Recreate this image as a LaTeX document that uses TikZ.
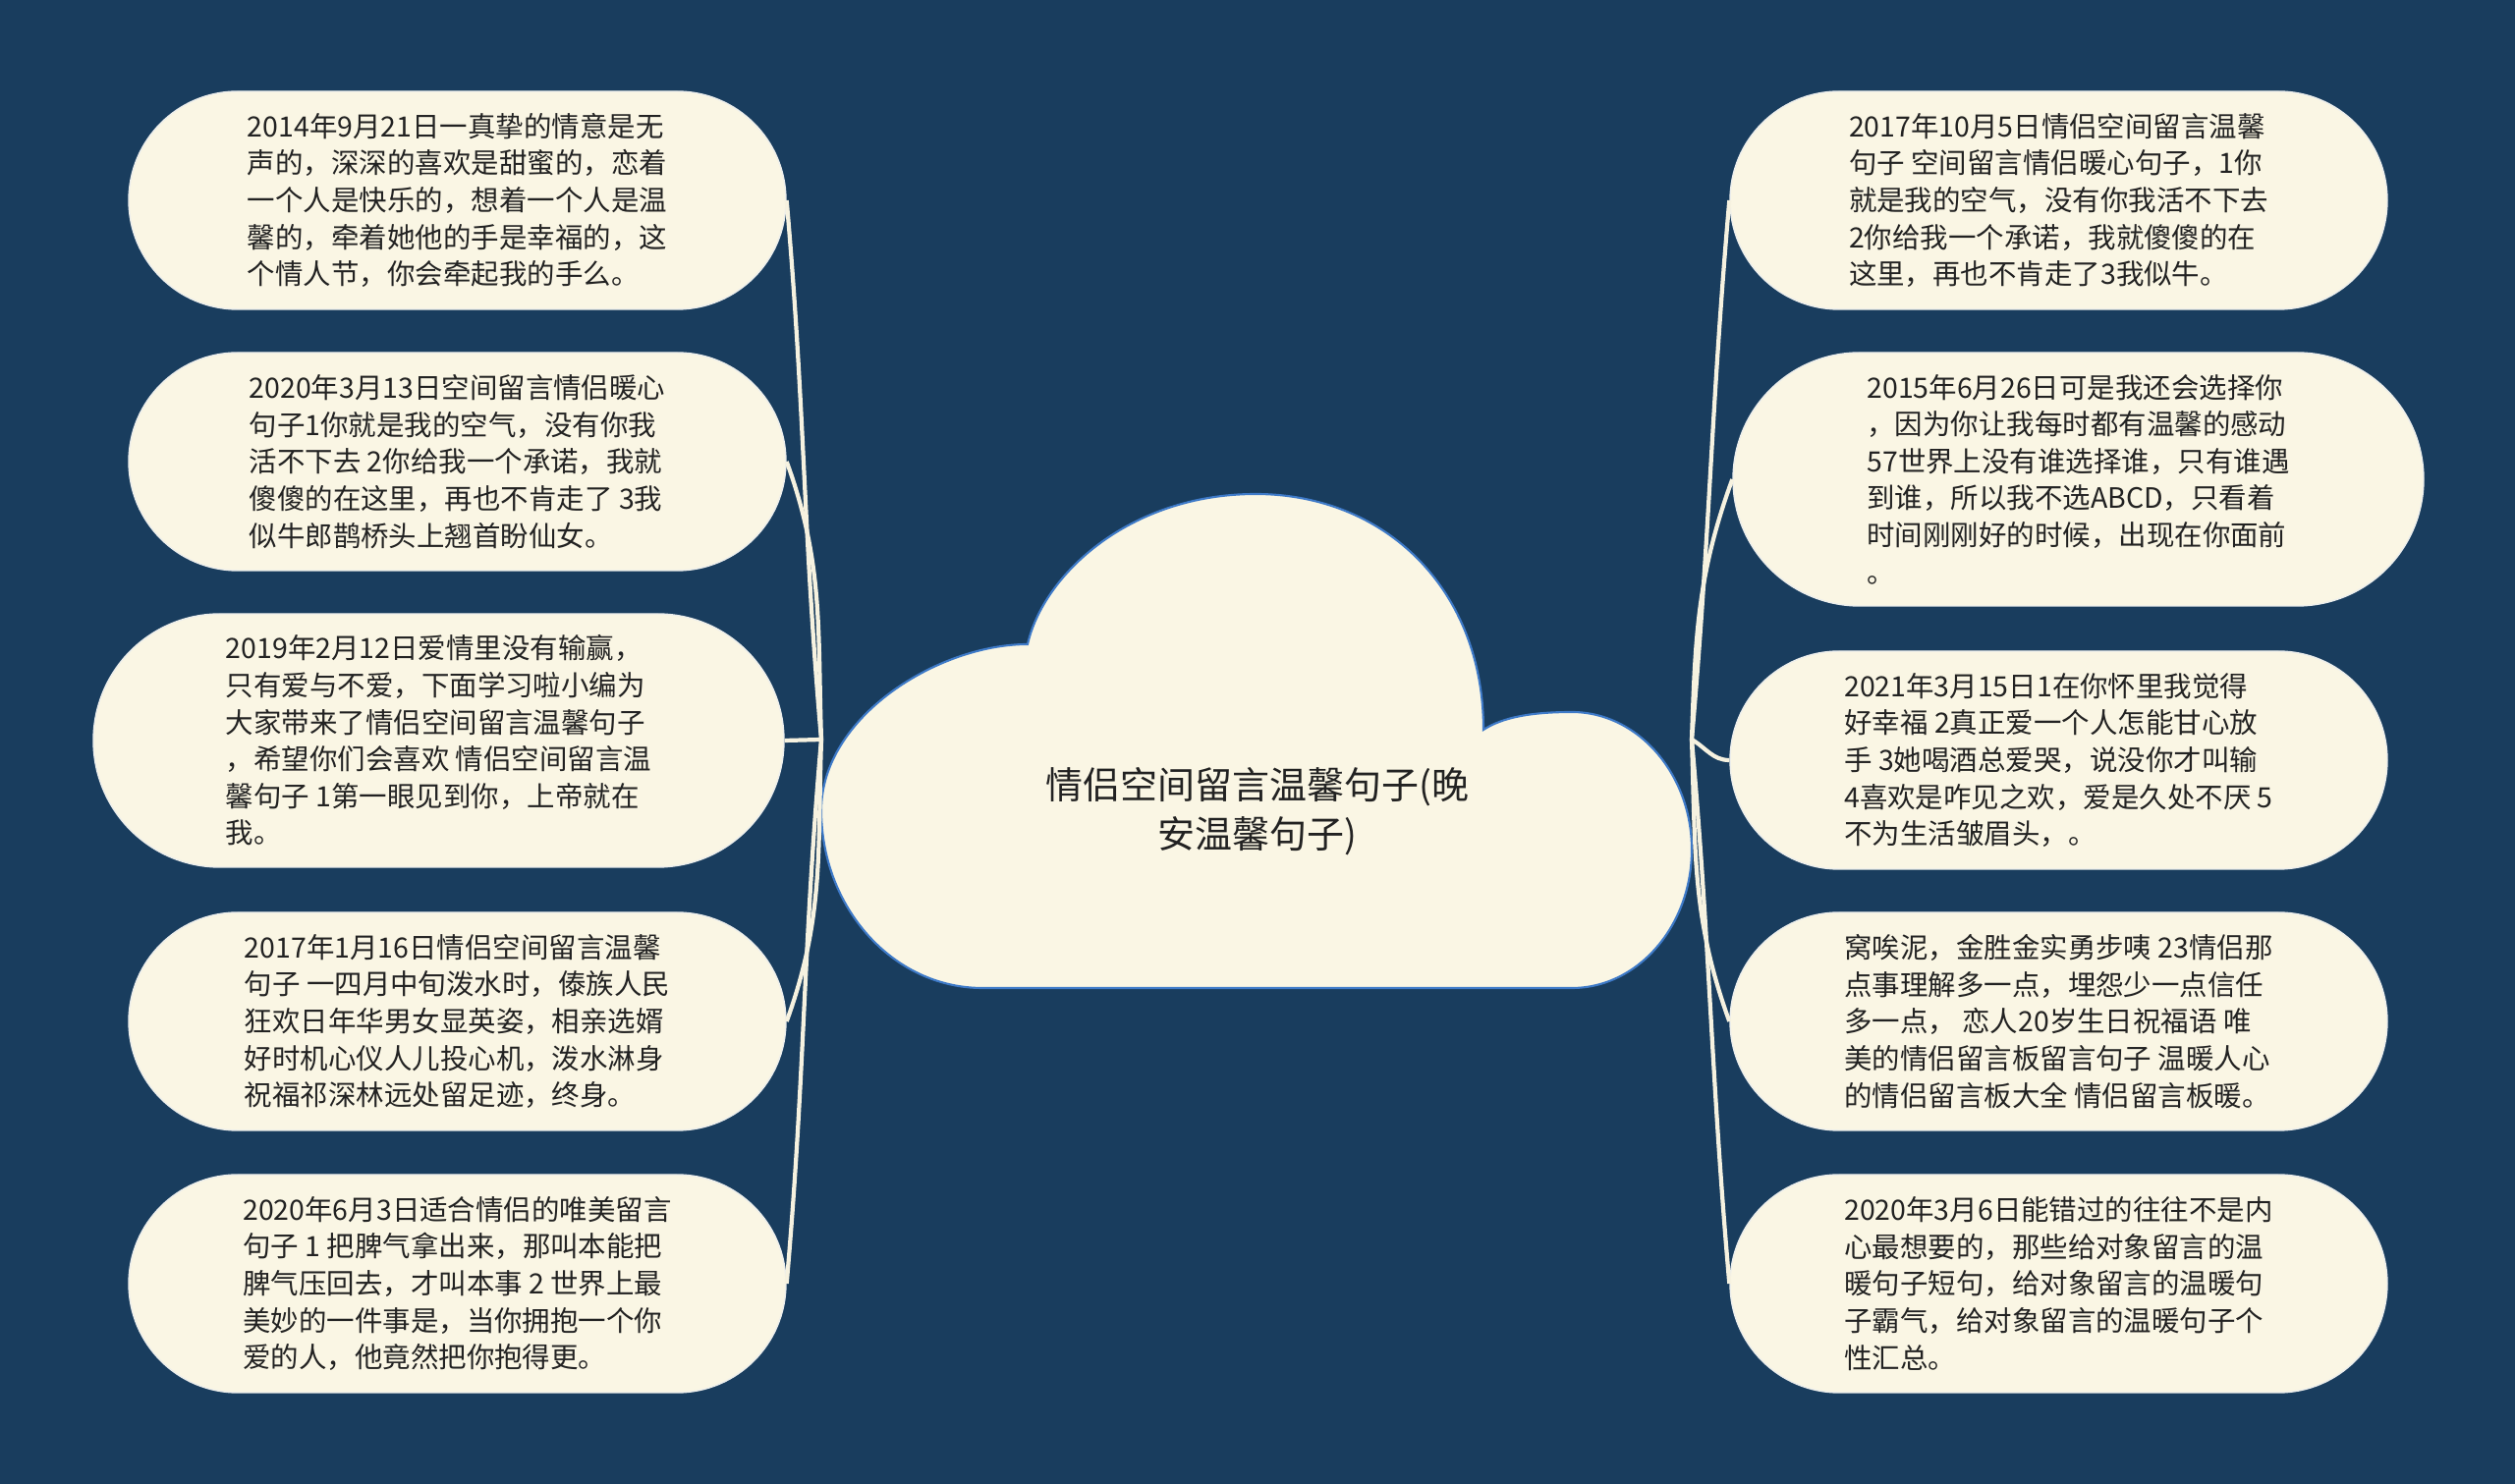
\documentclass[tikz,border=0pt]{standalone}
\usepackage{fontspec}
\newfontfamily\cjk{Noto Sans CJK SC}
\usetikzlibrary{calc}

\begin{document}
\begin{tikzpicture}[
    font=\cjk\fontsize{8.1}{10.7}\selectfont,
    pill/.style={draw=pillline,line width=0.4pt,fill=pillfill,rounded corners=1.11cm,minimum width=6.69cm,minimum height=2.22cm,inner sep=0pt,align=left,text=textcol},
    tall/.style={minimum width=7.03cm,minimum height=2.58cm,rounded corners=1.29cm},
    link/.style={draw=linkcol,line width=1.2pt},
    topic/.style={align=center,text=textcol,font=\cjk\fontsize{10.8}{14.2}\selectfont},
]
\definecolor{bgcol}{RGB}{25,61,94}      \definecolor{pillfill}{RGB}{250,246,228}
\definecolor{pillline}{RGB}{236,238,236} \definecolor{linkcol}{RGB}{246,242,224}
\definecolor{cloudline}{RGB}{62,122,200} \definecolor{textcol}{RGB}{34,34,34}

% background, also fixes the page size
\fill[bgcol] (0,0) rectangle (25.6,-15.11);

% ================= centre cloud =================
\draw[cloudline,fill=pillfill,line width=0.6pt] (10.0,-10.06) -- (16.0,-10.06)
  .. controls (16.67,-10.06) and (17.22,-9.43) .. (17.22,-8.65)
  .. controls (17.22,-7.88) and (16.67,-7.25) .. (16.0,-7.25)
  .. controls (15.6,-7.25) and (15.3,-7.3) .. (15.10,-7.43)
  .. controls (15.10,-6.0) and (14.10,-5.03) .. (12.78,-5.03)
  .. controls (11.50,-5.03) and (10.62,-5.85) .. (10.46,-6.56)
  .. controls (9.55,-6.56) and (8.36,-7.3) .. (8.36,-8.25)
  .. controls (8.36,-9.24) and (9.09,-10.06) .. cycle;
\node[topic] (topic) at (12.80,-8.26) {情侣空间留言温馨句子(晚\\安温馨句子)};
\coordinate (jl) at (8.36,-7.53);
\coordinate (jr) at (17.22,-7.53);

% ================= left branch =================
\node[pill] (l1) at (4.655,-2.04) {2014年9月21日一真挚的情意是无\\声的，深深的喜欢是甜蜜的，恋着\\一个人是快乐的，想着一个人是温\\馨的，牵着她他的手是幸福的，这\\个情人节，你会牵起我的手么。};
\node[pill] (l2) at (4.655,-4.70) {2020年3月13日空间留言情侣暖心\\句子1你就是我的空气，没有你我\\活不下去 2你给我一个承诺，我就\\傻傻的在这里，再也不肯走了 3我\\似牛郎鹊桥头上翘首盼仙女。};
\node[pill,tall] (l3) at (4.465,-7.54) {2019年2月12日爱情里没有输赢，\\只有爱与不爱，下面学习啦小编为\\大家带来了情侣空间留言温馨句子\\，希望你们会喜欢 情侣空间留言温\\馨句子 1第一眼见到你，上帝就在\\我。};
\node[pill] (l4) at (4.655,-10.40) {2017年1月16日情侣空间留言温馨\\句子 一四月中旬泼水时，傣族人民\\狂欢日年华男女显英姿，相亲选婿\\好时机心仪人儿投心机，泼水淋身\\祝福祁深林远处留足迹，终身。};
\node[pill] (l5) at (4.655,-13.07) {2020年6月3日适合情侣的唯美留言\\句子 1 把脾气拿出来，那叫本能把\\脾气压回去，才叫本事 2 世界上最\\美妙的一件事是，当你拥抱一个你\\爱的人，他竟然把你抱得更。};

% ================= right branch =================
\node[pill] (r1) at (20.955,-2.04) {2017年10月5日情侣空间留言温馨\\句子 空间留言情侣暖心句子，1你\\就是我的空气，没有你我活不下去\\2你给我一个承诺，我就傻傻的在\\这里，再也不肯走了3我似牛。};
\node[pill,tall] (r2) at (21.155,-4.88) {2015年6月26日可是我还会选择你\\，因为你让我每时都有温馨的感动\\57世界上没有谁选择谁，只有谁遇\\到谁，所以我不选ABCD，只看着\\时间刚刚好的时候，出现在你面前\\。};
\node[pill] (r3) at (20.955,-7.74) {2021年3月15日1在你怀里我觉得\\好幸福 2真正爱一个人怎能甘心放\\手 3她喝酒总爱哭，说没你才叫输\\4喜欢是咋见之欢，爱是久处不厌 5\\不为生活皱眉头，。};
\node[pill] (r4) at (20.955,-10.40) {窝唉泥，金胜金实勇步咦 23情侣那\\点事理解多一点，埋怨少一点信任\\多一点， 恋人20岁生日祝福语 唯\\美的情侣留言板留言句子 温暖人心\\的情侣留言板大全 情侣留言板暖。};
\node[pill] (r5) at (20.955,-13.07) {2020年3月6日能错过的往往不是内\\心最想要的，那些给对象留言的温\\暖句子短句，给对象留言的温暖句\\子霸气，给对象留言的温暖句子个\\性汇总。};

% ================= connectors =================
\draw[link] (jl) -- (l3.east);
\foreach \n/\o/\i in {l1/95/-85, l2/92/-70, l4/-92/70, l5/-95/85}
  { \draw[link] (jl) to[out=\o,in=\i] (\n.east); }
\foreach \n/\o/\i in {r1/85/-95, r2/88/-110, r3/-30/180, r4/-88/110, r5/-85/95}
  { \draw[link] (jr) to[out=\o,in=\i] (\n.west); }

\end{tikzpicture}
\end{document}
